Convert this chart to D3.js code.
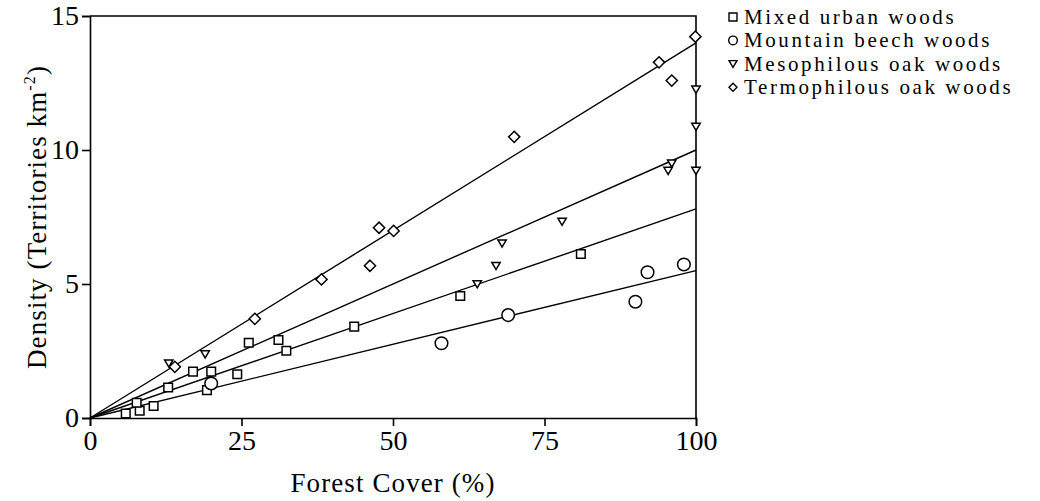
<!DOCTYPE html>
<html>
<head>
<meta charset="utf-8">
<script src="https://cdn.jsdelivr.net/npm/d3@7"></script>
<style>
  body { margin: 0; background: #fff; }
  text { font-family: "Liberation Serif", "Times New Roman", serif; fill: #000; }
</style>
</head>
<body>
<div id="chart"></div>
<script>
// data: forest cover (%) and density (territories per km2)
var mixedX = [5.9, 8.2, 10.5, 7.7, 12.9, 19.3, 17.0, 20.0, 24.3, 26.2, 31.1, 32.4, 43.6, 61.1, 81.0];
var mixedY = [0.17, 0.27, 0.45, 0.57, 1.14, 1.04, 1.73, 1.73, 1.63, 2.81, 2.91, 2.51, 3.41, 4.55, 6.12];

var beechX = [20.0, 58.0, 69.0, 90.0, 92.0, 98.0];
var beechY = [1.29, 2.79, 3.84, 4.34, 5.44, 5.73];

var mesoX = [13.0, 19.0, 63.9, 67.0, 68.0, 77.9, 95.4, 96.0, 100, 100, 100];
var mesoY = [2.04, 2.38, 5.0, 5.68, 6.52, 7.33, 9.23, 9.5, 12.26, 10.87, 9.23];

var termoX = [14.0, 27.2, 38.2, 46.2, 47.7, 50.1, 70.0, 93.9, 96.0, 99.9];
var termoY = [1.91, 3.7, 5.17, 5.68, 7.1, 6.98, 10.49, 13.27, 12.59, 14.23];

// regression lines through the origin (slope per % cover)
var seriesNames = ["Mixed urban woods", "Mountain beech woods", "Mesophilous oak woods", "Termophilous oak woods"];
var slopes = [0.078, 0.055, 0.100, 0.140];

var xTicks = [0, 25, 50, 75, 100];
var yTicks = [0, 5, 10, 15];

function drawChart() {
    var width = 1040;
    var height = 501;

    var xScale = d3.scaleLinear().domain([0, 100]).range([90, 696]);
    var yScale = d3.scaleLinear().domain([0, 15]).range([418, 16]);

    var svg = d3.select("#chart")
        .append("svg")
        .attr("width", width)
        .attr("height", height);

    var series = [
        { name: seriesNames[0], shape: "square", xs: mixedX, ys: mixedY, slope: slopes[0] },
        { name: seriesNames[1], shape: "circle", xs: beechX, ys: beechY, slope: slopes[1] },
        { name: seriesNames[2], shape: "triangle", xs: mesoX, ys: mesoY, slope: slopes[2] },
        { name: seriesNames[3], shape: "diamond", xs: termoX, ys: termoY, slope: slopes[3] }
    ];

    var shapePath = function (shape, s) {
        if (shape === "square")
            return "M" + (-s) + "," + (-s) + "H" + s + "V" + s + "H" + (-s) + "Z";
        if (shape === "circle")
            return d3.symbol().type(d3.symbolCircle).size(Math.PI * s * s)();
        if (shape === "triangle")
            return "M" + (-s) + "," + (-s * 0.8) + "H" + s + "L0," + (s * 0.9) + "Z";
        return "M0," + (-s) + "L" + s + ",0L0," + s + "L" + (-s) + ",0Z";
    };
    var markSize = { square: 4.3, circle: 6.3, triangle: 4.2, diamond: 5.6 };

    // frame top and right
    svg.append("path")
        .attr("d", "M" + xScale(0) + "," + yScale(15) + "H" + xScale(100) + "V" + yScale(0))
        .attr("fill", "none")
        .attr("stroke", "#000")
        .attr("stroke-width", 1.6);

    // fitted lines
    svg.selectAll(".fit")
        .data(series)
        .enter()
        .append("line")
        .attr("class", "fit")
        .attr("x1", xScale(0))
        .attr("y1", yScale(0))
        .attr("x2", xScale(100))
        .attr("y2", function (d) { return yScale(d.slope * 100); })
        .attr("stroke", "#000")
        .attr("stroke-width", 1.4);

    // points
    series.forEach(function (s) {
        var pts = s.xs.map(function (x, i) { return { x: x, y: s.ys[i] }; });
        svg.append("g")
            .selectAll("path")
            .data(pts)
            .enter()
            .append("path")
            .attr("transform", function (d) {
                return "translate(" + xScale(d.x) + "," + yScale(d.y) + ")";
            })
            .attr("d", shapePath(s.shape, markSize[s.shape]))
            .attr("fill", "#fff")
            .attr("stroke", "#000")
            .attr("stroke-width", 1.5);
    });

    // axes
    var xAxis = d3.axisBottom(xScale).tickValues(xTicks).tickSize(8).tickPadding(4);
    var gx = svg.append("g")
        .attr("transform", "translate(0," + yScale(0) + ")")
        .call(xAxis);

    var yAxis = d3.axisLeft(yScale).tickValues(yTicks).tickSize(8).tickPadding(3);
    var gy = svg.append("g")
        .attr("transform", "translate(" + xScale(0) + ",0)")
        .call(yAxis);

    [gx, gy].forEach(function (g) {
        g.select(".domain").attr("stroke-width", 1.6);
        g.selectAll(".tick line").attr("stroke-width", 1.6);
        g.selectAll(".tick text")
            .attr("font-family", "Liberation Serif")
            .attr("font-size", 28)
            .attr("fill", "#000");
    });

    svg.append("text")
        .attr("x", (xScale(0) + xScale(100)) / 2)
        .attr("y", 492)
        .attr("text-anchor", "middle")
        .attr("font-size", 27)
        .attr("letter-spacing", 1.1)
        .text("Forest Cover (%)");

    var ylab = svg.append("text")
        .attr("transform", "translate(46," + yScale(7.5) + ") rotate(-90)")
        .attr("text-anchor", "middle")
        .attr("font-size", 27)
        .attr("letter-spacing", 1.1);
    ylab.append("tspan").text("Density (Territories km");
    ylab.append("tspan").attr("font-size", 16).attr("dy", -11).text("-2");
    ylab.append("tspan").attr("dy", 11).text(")");

    // legend
    var legend = svg.append("g")
        .selectAll("g")
        .data(series)
        .enter()
        .append("g")
        .attr("transform", function (d, i) { return "translate(733," + (17 + i * 23.4) + ")"; });

    legend.append("path")
        .attr("d", function (d) { return shapePath(d.shape, d.shape === "circle" ? 4.3 : 4); })
        .attr("fill", "#fff")
        .attr("stroke", "#000")
        .attr("stroke-width", 1.4);

    legend.append("text")
        .attr("x", 11)
        .attr("y", 7)
        .attr("font-size", 21)
        .attr("letter-spacing", 2.6)
        .text(function (d) { return d.name; });
}

drawChart();
</script>
</body>
</html>
